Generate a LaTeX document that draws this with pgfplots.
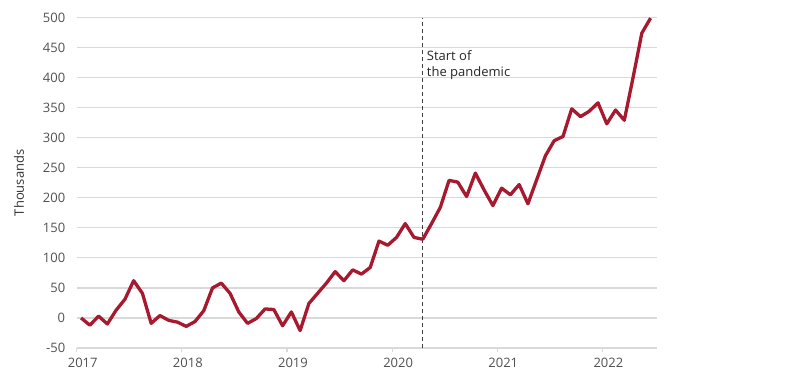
\documentclass[border=0pt]{standalone}
\usepackage{fontspec}
\setmainfont{Open Sans}
\usepackage{pgfplots}
\pgfplotsset{compat=1.18}
\definecolor{crimson}{RGB}{166,25,46}
\definecolor{gridgray}{RGB}{217,217,217}
\definecolor{labgray}{RGB}{80,80,80}
\begin{document}
\begin{tikzpicture}[x=1bp,y=1bp]
\path[use as bounding box] (0,0) rectangle (789,389);
\begin{axis}[
  at={(76.7bp,41bp)}, anchor=south west,
  scale only axis, width=580bp, height=330.5bp,
  xmin=0, xmax=66.2, ymin=-50, ymax=500,
  ytick={-50,0,50,...,500},
  xtick={0,12,24,36,48,60},
  xticklabels={2017,2018,2019,2020,2021,2022},
  axis line style={draw=none},
  ymajorgrids, grid style={gridgray, line width=1.2bp},
  ytick style={draw=none},
  xtick style={gridgray, line width=1.2bp},
  tick align=outside, major tick length=4bp,
  xtick pos=bottom,
  /pgf/number format/assume math mode=true,
  /pgf/number format/.cd, 1000 sep={}, /pgfplots/.cd,
  tick label style={font=\fontsize{13bp}{14bp}\selectfont, text=labgray},
  yticklabel style={anchor=east, xshift=-4bp},
  xticklabel style={anchor=north, xshift=6bp, yshift=-3bp},
  clip=false,
]
\addplot[black!75, line width=1.3bp, dash pattern=on 4bp off 3bp] coordinates {(39.5,-50) (39.5,500)};
\addplot[crimson, line width=3.3bp, line join=round] coordinates {
(0.5,0) (1.5,-12) (2.5,3) (3.5,-10) (4.5,13) (5.5,31) (6.5,62) (7.5,41) (8.5,-9) (9.5,4) (10.5,-4) (11.5,-7)
(12.5,-14) (13.5,-6) (14.5,12) (15.5,50) (16.5,58) (17.5,41) (18.5,10) (19.5,-9) (20.5,-1) (21.5,15) (22.5,14) (23.5,-13)
(24.5,10) (25.5,-21) (26.5,24) (27.5,41) (28.5,58) (29.5,77) (30.5,62) (31.5,80) (32.5,73) (33.5,84) (34.5,128) (35.5,121)
(36.5,134) (37.5,157) (38.5,134) (39.5,131) (40.5,157) (41.5,184) (42.5,229) (43.5,226) (44.5,202) (45.5,241) (46.5,213) (47.5,187)
(48.5,216) (49.5,205) (50.5,222) (51.5,190) (52.5,230) (53.5,270) (54.5,295) (55.5,302) (56.5,348) (57.5,335) (58.5,344) (59.5,358)
(60.5,323) (61.5,346) (62.5,329) (63.5,400) (64.5,474) (65.5,499)
};
\node[anchor=north west, align=left, inner sep=0pt, xshift=4bp, text=black!85,
  font=\fontsize{13bp}{16bp}\selectfont] at (axis cs:39.5,446) {Start of\\the pandemic};
\node[rotate=90, anchor=center, inner sep=0pt, text=black!80,
  font=\fontsize{13bp}{14bp}\selectfont] at (axis description cs:-0.0995,0.5) {Thousands};
\end{axis}
\end{tikzpicture}
\end{document}
